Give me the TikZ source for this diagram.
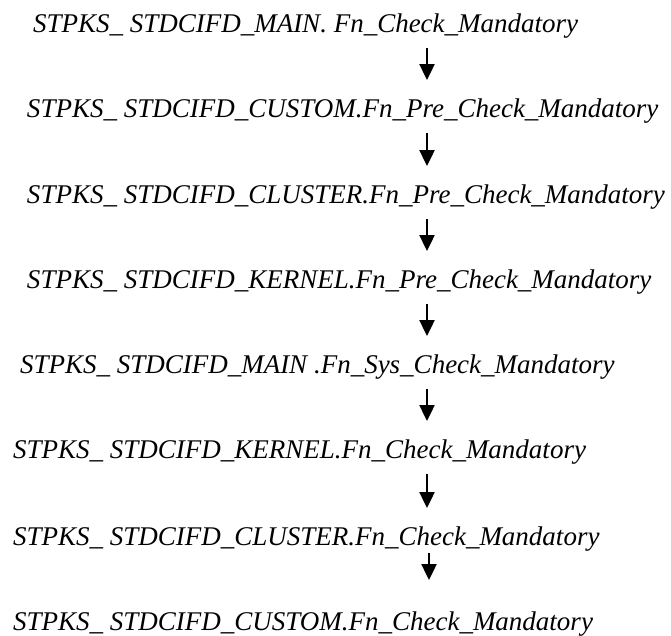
\documentclass[tikz,border=0pt]{standalone}
\usepackage{fontspec}
\setmainfont{Liberation Serif}
\usetikzlibrary{arrows.meta}
\tikzset{
  lbl/.style={anchor=base west, inner sep=0pt, outer sep=0pt, text height=18pt, text depth=0pt, font=\fontsize{27}{31}\selectfont\itshape},
  flow/.style={line width=2.4pt, -{Triangle[width=15pt,length=16pt]}, shorten <=16pt, shorten >=19pt}
}
\begin{document}
\begin{tikzpicture}[x=1pt,y=-1pt]
\useasboundingbox (0,0) rectangle (671,635);
\node[lbl] (n1) at (33,32) {STPKS\_ STDCIFD\_MAIN. Fn\_Check\_Mandatory};
\node[lbl] (n2) at (27,117) {STPKS\_ STDCIFD\_CUSTOM.Fn\_Pre\_Check\_Mandatory};
\node[lbl] (n3) at (27,203) {STPKS\_ STDCIFD\_CLUSTER.Fn\_Pre\_Check\_Mandatory};
\node[lbl] (n4) at (27,288) {STPKS\_ STDCIFD\_KERNEL.Fn\_Pre\_Check\_Mandatory};
\node[lbl] (n5) at (20,373) {STPKS\_ STDCIFD\_MAIN .Fn\_Sys\_Check\_Mandatory};
\node[lbl] (n6) at (13,458) {STPKS\_ STDCIFD\_KERNEL.Fn\_Check\_Mandatory};
\node[lbl] (n7) at (13,545) {STPKS\_ STDCIFD\_CLUSTER.Fn\_Check\_Mandatory};
\node[lbl] (n8) at (13,630) {STPKS\_ STDCIFD\_CUSTOM.Fn\_Check\_Mandatory};
\coordinate (ax) at (427,0);
\coordinate (bx) at (429,0);
\draw[flow] (n1.south -| ax) -- (n2.north -| ax);
\draw[flow] (n2.south -| ax) -- (n3.north -| ax);
\draw[flow] (n3.south -| ax) -- (n4.north -| ax);
\draw[flow] (n4.south -| ax) -- (n5.north -| ax);
\draw[flow] (n5.south -| ax) -- (n6.north -| ax);
\draw[flow] (n6.south -| ax) -- (n7.north -| ax);
\draw[flow, shorten <=8pt, shorten >=32pt] (n7.south -| bx) -- (n8.north -| bx);
\end{tikzpicture}
\end{document}
